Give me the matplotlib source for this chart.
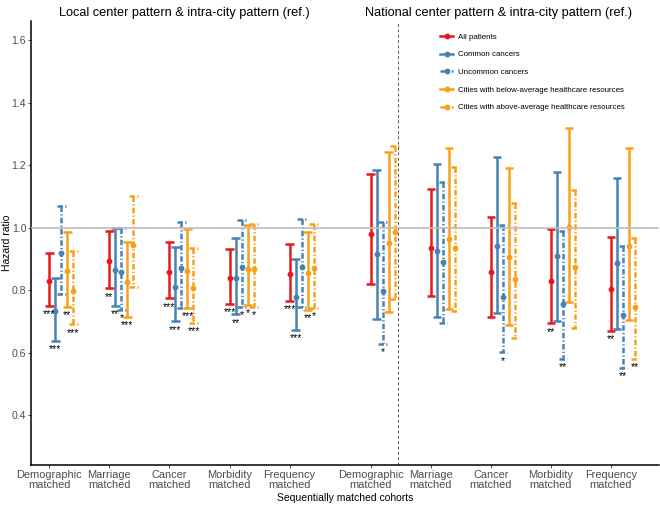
import matplotlib.pyplot as plt
import numpy as np
from matplotlib.lines import Line2D

plt.rcParams['font.family'] = ['Liberation Sans', 'DejaVu Sans']

###############################################################################
# Data (hazard ratio, 95% CI, significance stars)
cohorts = ["Demographic\nmatched", "Marriage\nmatched", "Cancer\nmatched",
           "Morbidity\nmatched", "Frequency\nmatched"] * 2
panel_titles = ["Local center pattern & intra-city pattern (ref.)",
                "National center pattern & intra-city pattern (ref.)"]

all_hr = [0.831, 0.894, 0.860, 0.839, 0.853, 0.980, 0.937, 0.859, 0.830, 0.805]
all_lo = [0.751, 0.806, 0.775, 0.756, 0.767, 0.821, 0.782, 0.715, 0.694, 0.670]
all_hi = [0.921, 0.991, 0.955, 0.932, 0.948, 1.172, 1.123, 1.033, 0.995, 0.971]
all_sig = ["***", "**", "***", "***", "***", "", "", "", "**", "**"]

common_hr = [0.734, 0.866, 0.812, 0.838, 0.778, 0.916, 0.927, 0.943, 0.910, 0.887]
common_lo = [0.639, 0.750, 0.701, 0.723, 0.673, 0.707, 0.714, 0.727, 0.701, 0.677]
common_hi = [0.840, 0.998, 0.938, 0.968, 0.901, 1.185, 1.204, 1.225, 1.180, 1.160]
common_sig = ["***", "**", "***", "**", "***", "", "", "", "", ""]

uncommon_hr = [0.918, 0.860, 0.871, 0.876, 0.876, 0.799, 0.892, 0.780, 0.757, 0.721]
uncommon_lo = [0.789, 0.737, 0.744, 0.748, 0.747, 0.628, 0.694, 0.602, 0.582, 0.553]
uncommon_hi = [1.070, 0.999, 1.020, 1.026, 1.028, 1.018, 1.148, 1.010, 0.990, 0.942]
uncommon_sig = ["", "*", "", "*", "", "*", "", "*", "**", "**"]

below_hr = [0.861, 0.828, 0.863, 0.869, 0.854, 0.952, 0.963, 0.908, 1.003, 0.942]
below_lo = [0.747, 0.716, 0.744, 0.753, 0.738, 0.732, 0.740, 0.690, 0.762, 0.706]
below_hi = [0.988, 0.955, 0.996, 1.009, 0.988, 1.241, 1.255, 1.191, 1.319, 1.255]
below_sig = ["**", "***", "***", "*", "**", "", "", "", "", ""]

above_hr = [0.798, 0.945, 0.808, 0.868, 0.870, 0.988, 0.937, 0.837, 0.874, 0.748]
above_lo = [0.691, 0.811, 0.697, 0.747, 0.745, 0.773, 0.735, 0.649, 0.679, 0.581]
above_hi = [0.925, 1.102, 0.937, 1.013, 1.013, 1.262, 1.194, 1.078, 1.122, 0.966]
above_sig = ["***", "", "***", "*", "*", "", "", "", "", "**"]

###############################################################################
# Styling
red = "#E41A1C"
blue = "#4682B4"
orange = "#F7A11A"
dashdot = (0, (2.2, 0.9, 0.5, 0.9))

series = [
    ("All patients", all_hr, all_lo, all_hi, all_sig, red, "solid"),
    ("Common cancers", common_hr, common_lo, common_hi, common_sig, blue, "solid"),
    ("Uncommon cancers", uncommon_hr, uncommon_lo, uncommon_hi, uncommon_sig, blue, dashdot),
    ("Cities with below-average healthcare resources", below_hr, below_lo, below_hi, below_sig, orange, "solid"),
    ("Cities with above-average healthcare resources", above_hr, above_lo, above_hi, above_sig, orange, dashdot),
]

# cohort positions: two blocks of five with a gap between them
idx = np.arange(len(cohorts))
pos = idx + np.where(idx >= 5, 0.35, 0.0)
dodge = 0.1
cap = 0.07
lw = 1.8

fig = plt.figure(figsize=(6.6, 5.08), dpi=100)
ax = fig.add_axes([0.047, 0.085, 0.951, 0.874])

for k, (label, hr, lo, hi, sig, col, ls) in enumerate(series):
    x = pos + k * dodge
    ax.vlines(x, hi, lo, colors=col, linestyles=ls, linewidth=lw, zorder=3)
    ax.hlines(hi, x - cap, x + cap, colors=col, linestyles=ls, linewidth=lw, zorder=3)
    ax.hlines(lo, x - cap, x + cap, colors=col, linestyles=ls, linewidth=lw, zorder=3)
    ax.plot(x, hr, 'o', color=col, markersize=3.2, zorder=4)
    for xi, yi, s in zip(x, lo, sig):
        if s:
            ax.text(xi, yi - 0.027, s, ha='center', va='center', fontsize=7.5,
                    color='black', zorder=5)

# reference line and separator
ax.axhline(1.0, color='#BEBEBE', linewidth=1.2, zorder=4)
ax.axvline(5.81, color='#555555', linewidth=0.7, linestyle=(0, (3, 2.5)), zorder=1)

ax.set_xlim(-0.305, 10.145)
ax.set_ylim(0.242, 1.662)
ax.set_xticks(pos)
ax.set_xticklabels(cohorts, fontsize=7.9, color='#4D4D4D', linespacing=1.0)
ax.set_yticks(np.arange(0.4, 1.61, 0.2))
ax.set_yticklabels(["%.1f" % v for v in np.arange(0.4, 1.61, 0.2)],
                   fontsize=7.6, color='#4D4D4D')
ax.tick_params(axis='both', length=2.2, width=0.6, color='#333333', pad=1.2)
for side in ['top', 'right']:
    ax.spines[side].set_visible(False)
for side in ['left', 'bottom']:
    ax.spines[side].set_linewidth(1.1)
ax.set_ylabel("Hazard ratio", fontsize=7.5)
ax.yaxis.set_label_coords(-0.030, 0.5)
ax.set_xlabel("Sequentially matched cohorts", fontsize=7.5, labelpad=2.5)

# panel titles centred over each half
fig.text(184 / 660, 1 - 13 / 508, panel_titles[0], ha='center', va='center', fontsize=9.2)
fig.text(499 / 660, 1 - 13 / 508, panel_titles[1], ha='center', va='center', fontsize=9.2)

handles = [Line2D([0], [0], color=s[5], linestyle=s[6], linewidth=lw,
                  marker='o', markersize=3.2) for s in series]
ax.legend(handles, [s[0] for s in series], loc='upper left',
          bbox_to_anchor=(437 / 660, 1 - 30 / 508), bbox_transform=fig.transFigure,
          frameon=False, fontsize=5.7, handlelength=1.6, labelspacing=1.28,
          handletextpad=0.7, borderaxespad=0)

fig.savefig("out.png", dpi=100)
